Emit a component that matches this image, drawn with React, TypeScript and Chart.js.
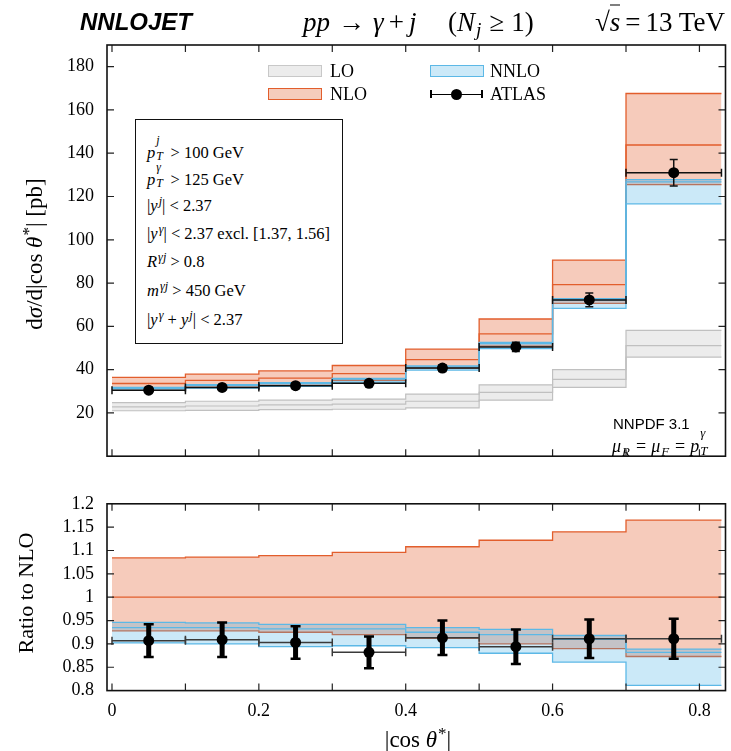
import React, { useEffect, useRef } from "react";
import { Chart, registerables } from "chart.js";
Chart.register(...registerables);

// ---------- data ----------
const binEdges = [0, 0.1, 0.2, 0.3, 0.4, 0.5, 0.6, 0.7, 0.83];
const dataCenters = [0.05, 0.15, 0.25, 0.35, 0.45, 0.55, 0.65, 0.765];

const loDown = [21.0, 21.2, 21.5, 21.7, 22.3, 25.9, 31.8, 45.8];
const loCentral = [22.8, 23.2, 23.7, 24.1, 25.4, 29.5, 35.5, 51.1];
const loUp = [24.8, 25.4, 25.9, 26.4, 28.7, 33.0, 40.0, 58.1];

const nloDown = [31.2, 32.5, 33.4, 35.1, 40.7, 50.9, 70.6, 125.5];
const nloCentral = [33.6, 35.0, 36.1, 38.2, 44.6, 56.5, 79.3, 143.8];
const nloUp = [36.4, 37.9, 39.4, 41.9, 49.5, 63.4, 90.6, 167.6];

const nnloDown = [30.4, 31.5, 32.3, 34.2, 39.8, 49.7, 68.3, 116.6];
const nnloCentral = [31.4, 32.7, 33.6, 35.6, 41.3, 52.0, 72.2, 126.8];
const nnloUp = [31.8, 33.1, 34.0, 36.0, 41.7, 52.6, 72.8, 127.8];

const atlas = [30.5, 31.8, 32.6, 33.7, 40.7, 50.5, 72.2, 131.0];
const atlasErr = [1.2, 1.3, 1.3, 1.3, 1.6, 2.1, 3.2, 6.1];

const ratioNloDown = [0.928, 0.928, 0.925, 0.92, 0.912, 0.9, 0.89, 0.873];
const ratioNloCentral = [1, 1, 1, 1, 1, 1, 1, 1];
const ratioNloUp = [1.084, 1.086, 1.089, 1.096, 1.108, 1.122, 1.14, 1.165];
const ratioNnloDown = [0.902, 0.9, 0.894, 0.896, 0.892, 0.88, 0.861, 0.811];
const ratioNnloCentral = [0.935, 0.935, 0.932, 0.932, 0.925, 0.92, 0.91, 0.882];
const ratioNnloUp = [0.946, 0.945, 0.942, 0.942, 0.935, 0.931, 0.918, 0.889];
const ratioAtlas = [0.907, 0.909, 0.903, 0.882, 0.913, 0.894, 0.911, 0.911];
const ratioAtlasErr = [0.035, 0.037, 0.035, 0.034, 0.037, 0.037, 0.041, 0.043];

// ---------- style ----------
const SERIF = '"Liberation Serif", "Times New Roman", serif';
const SANS = '"Liberation Sans", Arial, sans-serif';
const NLO_LINE = "rgb(226,94,44)";
const NLO_FILL = "rgba(226,94,44,0.32)";
const NNLO_LINE = "rgb(92,184,230)";
const NNLO_FILL = "rgba(70,175,230,0.28)";
const LO_LINE = "rgb(192,192,192)";
const LO_FILL = "rgba(160,160,160,0.2)";
const X_MIN = -0.0068;
const X_MAX = 0.8355;
const W = 731;
const TOP_H = 480;
const BOT_H = 271;

function stepPoints(vals: number[]) {
  return binEdges.map((x, i) => ({ x, y: vals[Math.min(i, vals.length - 1)] }));
}

function band(down: number[], central: number[], up: number[], line: string, fill: string, order: number, base: number, lw: number) {
  const common = { stepped: "before" as const, pointRadius: 0, pointHoverRadius: 0, borderColor: line, borderWidth: lw };
  return [
    { ...common, data: stepPoints(down), backgroundColor: fill, fill: base + 2, order: order + 3 },
    { ...common, data: stepPoints(central), fill: false, order: order + 2 },
    { ...common, data: stepPoints(up), fill: false, order: order + 1 },
  ];
}

function errorBarPlugin(dataIndex: number, centers: number[], vals: number[], errs: number[], st: any) {
  return {
    id: "errbars",
    beforeDatasetDraw(chart: any, args: any) {
      if (args.index !== dataIndex) return;
      const { ctx, chartArea: a } = chart;
      const xs = chart.scales.x;
      const ys = chart.scales.y;
      ctx.save();
      ctx.beginPath();
      ctx.rect(a.left, a.top, a.right - a.left, a.bottom - a.top);
      ctx.clip();
      for (let i = 0; i < vals.length; i++) {
        const x0 = xs.getPixelForValue(binEdges[i]);
        const x1 = xs.getPixelForValue(binEdges[i + 1]);
        const xc = xs.getPixelForValue(centers[i]);
        const yc = ys.getPixelForValue(vals[i]);
        const yu = ys.getPixelForValue(vals[i] + errs[i]);
        const yd = ys.getPixelForValue(vals[i] - errs[i]);
        ctx.strokeStyle = st.hColor;
        ctx.lineWidth = st.hWidth;
        ctx.beginPath();
        ctx.moveTo(x0, yc);
        ctx.lineTo(x1, yc);
        ctx.moveTo(x0, yc - st.hCap);
        ctx.lineTo(x0, yc + st.hCap);
        ctx.moveTo(x1, yc - st.hCap);
        ctx.lineTo(x1, yc + st.hCap);
        ctx.stroke();
        ctx.strokeStyle = st.vColor;
        ctx.lineWidth = st.vWidth;
        ctx.beginPath();
        ctx.moveTo(xc, yu);
        ctx.lineTo(xc, yd);
        ctx.stroke();
        ctx.lineWidth = st.capWidth;
        ctx.beginPath();
        ctx.moveTo(xc - st.vCap, yu);
        ctx.lineTo(xc + st.vCap, yu);
        ctx.moveTo(xc - st.vCap, yd);
        ctx.lineTo(xc + st.vCap, yd);
        ctx.stroke();
      }
      ctx.restore();
    },
  };
}

const framePlugin = {
  id: "frame",
  afterDraw(chart: any) {
    const { ctx, chartArea: a } = chart;
    const xs = chart.scales.x;
    const ys = chart.scales.y;
    const L = 7;
    ctx.save();
    ctx.strokeStyle = "#222";
    ctx.lineWidth = 1.2;
    ctx.beginPath();
    for (const t of xs.ticks) {
      const px = xs.getPixelForValue(t.value);
      ctx.moveTo(px, a.top);
      ctx.lineTo(px, a.top + L);
      ctx.moveTo(px, a.bottom);
      ctx.lineTo(px, a.bottom - L);
    }
    for (const t of ys.ticks) {
      const py = ys.getPixelForValue(t.value);
      if (py <= a.top + 1 || py >= a.bottom - 1) continue;
      ctx.moveTo(a.left, py);
      ctx.lineTo(a.left + L, py);
      ctx.moveTo(a.right, py);
      ctx.lineTo(a.right - L, py);
    }
    ctx.stroke();
    ctx.lineWidth = 1.6;
    ctx.strokeStyle = "#111";
    ctx.strokeRect(a.left, a.top, a.right - a.left, a.bottom - a.top);
    ctx.restore();
  },
};

const tickFont = { family: SERIF, size: 18 };

function makeTop(canvas: HTMLCanvasElement) {
  const datasets: any[] = [
    ...band(loDown, loCentral, loUp, LO_LINE, LO_FILL, 30, 0, 1.2),
    ...band(nloDown, nloCentral, nloUp, NLO_LINE, NLO_FILL, 20, 3, 1.3),
    ...band(nnloDown, nnloCentral, nnloUp, NNLO_LINE, NNLO_FILL, 10, 6, 1.3),
    {
      data: dataCenters.map((x, i) => ({ x, y: atlas[i] })),
      showLine: false,
      pointRadius: 5.5,
      pointHoverRadius: 5.5,
      pointBackgroundColor: "#000",
      pointBorderWidth: 0,
      order: 0,
    },
  ];
  return new Chart(canvas, {
    type: "line",
    data: { datasets },
    options: {
      animation: false,
      responsive: false,
      events: [],
      layout: { padding: { top: 45, right: 1, left: 0, bottom: 0 } },
      plugins: { legend: { display: false }, tooltip: { enabled: false } },
      scales: {
        x: {
          type: "linear",
          min: X_MIN,
          max: X_MAX,
          grid: { display: false, drawTicks: false },
          border: { display: false },
          ticks: { display: false, stepSize: 0.1, includeBounds: false, autoSkip: false },
          afterFit: (s: any) => {
            s.height = TOP_H - 464.5;
          },
        },
        y: {
          type: "linear",
          min: 0,
          max: 190,
          grid: { display: false, drawTicks: false },
          border: { display: false },
          ticks: {
            stepSize: 20,
            includeBounds: false,
            autoSkip: false,
            padding: 13,
            color: "#000",
            font: tickFont,
            callback: (v: any) => (v === 0 ? "" : String(v)),
          },
          afterFit: (s: any) => {
            s.width = 107;
          },
        },
      },
    },
    plugins: [
      framePlugin,
      errorBarPlugin(9, dataCenters, atlas, atlasErr, {
        hColor: "#111",
        hWidth: 1.5,
        hCap: 4,
        vColor: "#111",
        vWidth: 1.5,
        capWidth: 1.5,
        vCap: 4,
      }),
    ],
  } as any);
}

function makeBottom(canvas: HTMLCanvasElement) {
  const datasets: any[] = [
    ...band(ratioNloDown, ratioNloCentral, ratioNloUp, NLO_LINE, NLO_FILL, 20, 0, 1.3),
    ...band(ratioNnloDown, ratioNnloCentral, ratioNnloUp, NNLO_LINE, NNLO_FILL, 10, 3, 1.3),
    {
      data: dataCenters.map((x, i) => ({ x, y: ratioAtlas[i] })),
      showLine: false,
      pointRadius: 5.5,
      pointHoverRadius: 5.5,
      pointBackgroundColor: "#000",
      pointBorderWidth: 0,
      order: 0,
    },
  ];
  return new Chart(canvas, {
    type: "line",
    data: { datasets },
    options: {
      animation: false,
      responsive: false,
      events: [],
      layout: { padding: { top: 16, right: 1, left: 0, bottom: 0 } },
      plugins: { legend: { display: false }, tooltip: { enabled: false } },
      scales: {
        x: {
          type: "linear",
          min: X_MIN,
          max: X_MAX,
          grid: { display: false, drawTicks: false },
          border: { display: false },
          ticks: {
            stepSize: 0.1,
            includeBounds: false,
            autoSkip: false,
            maxRotation: 0,
            padding: 10,
            color: "#000",
            font: tickFont,
            callback: (v: any) => {
              const r = Math.round(v * 10);
              return r % 2 === 0 ? String(r / 10) : "";
            },
          },
          afterFit: (s: any) => {
            s.height = BOT_H - (690.6 - TOP_H);
          },
        },
        y: {
          type: "linear",
          min: 0.8,
          max: 1.2,
          grid: { display: false, drawTicks: false },
          border: { display: false },
          ticks: {
            stepSize: 0.05,
            autoSkip: false,
            padding: 13,
            color: "#000",
            font: tickFont,
            callback: (v: any) => String(Math.round(v * 100) / 100),
          },
          afterFit: (s: any) => {
            s.width = 107;
          },
        },
      },
    },
    plugins: [
      framePlugin,
      errorBarPlugin(6, dataCenters, ratioAtlas, ratioAtlasErr, {
        hColor: "#3a3a3a",
        hWidth: 1.5,
        hCap: 4,
        vColor: "#000",
        vWidth: 5,
        capWidth: 2.5,
        vCap: 5,
      }),
    ],
  } as any);
}

// ---------- text helpers ----------
function T({ x, cy, children, style, center }: any) {
  return (
    <div
      style={{
        position: "absolute",
        left: x,
        top: cy,
        transform: center ? "translate(-50%, -50%)" : "translateY(-50%)",
        whiteSpace: "nowrap",
        lineHeight: 1,
        ...style,
      }}
    >
      {children}
    </div>
  );
}

// stacked superscript / subscript (e.g. p_T^j)
function SS({ sup, sub }: any) {
  return (
    <span
      style={{
        display: "inline-block",
        position: "relative",
        width: "0.6em",
        height: "1em",
        verticalAlign: "baseline",
        fontSize: "0.72em",
        marginLeft: 1,
        marginRight: 3,
      }}
    >
      <span style={{ position: "absolute", left: 0, bottom: "0.9em", lineHeight: 1 }}>{sup}</span>
      <span style={{ position: "absolute", left: 0, top: "0.45em", lineHeight: 1 }}>{sub}</span>
    </span>
  );
}

const I = ({ children }: any) => <span style={{ fontStyle: "italic" }}>{children}</span>;
const Sup = ({ children }: any) => (
  <span style={{ fontSize: "0.74em", verticalAlign: "0.5em", marginLeft: 1, lineHeight: 0 }}>{children}</span>
);
const Sub = ({ children }: any) => (
  <span
    style={{
      display: "inline-block",
      fontSize: "0.72em",
      transform: "translateY(0.3em)",
      marginLeft: 1,
      marginRight: 1,
      lineHeight: 1,
    }}
  >
    {children}
  </span>
);

function Rot({ cx, cy, children, style }: any) {
  return (
    <div
      style={{
        position: "absolute",
        left: cx,
        top: cy,
        transform: "translate(-50%, -50%) rotate(-90deg)",
        whiteSpace: "nowrap",
        lineHeight: 1,
        ...style,
      }}
    >
      {children}
    </div>
  );
}

export default function App() {
  const topRef = useRef<HTMLCanvasElement>(null);
  const botRef = useRef<HTMLCanvasElement>(null);

  useEffect(() => {
    const c1 = makeTop(topRef.current!);
    const c2 = makeBottom(botRef.current!);
    return () => {
      c1.destroy();
      c2.destroy();
    };
  }, []);

  const cutLines = [
    <>
      <I>p</I>
      <SS sup={<I>j</I>} sub={<I>T</I>} /> &gt; 100 GeV
    </>,
    <>
      <I>p</I>
      <SS sup={<I>γ</I>} sub={<I>T</I>} /> &gt; 125 GeV
    </>,
    <>
      |<I>y</I>
      <Sup>
        <I>j</I>
      </Sup>
      | &lt; 2.37
    </>,
    <>
      |<I>y</I>
      <Sup>
        <I>γ</I>
      </Sup>
      | &lt; 2.37 excl. [1.37, 1.56]
    </>,
    <>
      <I>R</I>
      <Sup>
        <I>γj</I>
      </Sup>{" "}
      &gt; 0.8
    </>,
    <>
      <I>m</I>
      <Sup>
        <I>γj</I>
      </Sup>{" "}
      &gt; 450 GeV
    </>,
    <>
      |<I>y</I>
      <Sup>
        <I>γ</I>
      </Sup>{" "}
      + <I>y</I>
      <Sup>
        <I>j</I>
      </Sup>
      | &lt; 2.37
    </>,
  ];
  const cutY = [153, 180, 206, 234, 262, 291, 320];

  const box = (left: number, top: number, bg: string, border: string) => (
    <div
      style={{
        position: "absolute",
        left,
        top,
        width: 52,
        height: 10,
        background: bg,
        border: `1.3px solid ${border}`,
      }}
    />
  );

  return (
    <div
      style={{
        position: "absolute",
        left: 0,
        top: 0,
        width: W,
        height: TOP_H + BOT_H,
        background: "#fff",
        fontFamily: SERIF,
        color: "#000",
        overflow: "hidden",
      }}
    >
      <canvas ref={topRef} width={W} height={TOP_H} style={{ position: "absolute", left: 0, top: 0 }} />
      <canvas ref={botRef} width={W} height={BOT_H} style={{ position: "absolute", left: 0, top: TOP_H }} />

      {/* title */}
      <T x={80} cy={22} style={{ fontFamily: SANS, fontWeight: "bold", fontStyle: "italic", fontSize: 24 }}>
        NNLOJET
      </T>
      <T x={303} cy={22} style={{ fontSize: 27 }}>
        <I>pp</I>
        <span style={{ margin: "0 8px" }}>→</span>
        <I>γ</I>
        <span style={{ margin: "0 5px" }}>+</span>
        <I>j</I>
      </T>
      <T x={448} cy={22} style={{ fontSize: 27 }}>
        (<I>N</I>
        <Sub>
          <I>j</I>
        </Sub>
        <span style={{ margin: "0 7px" }}>≥</span>1)
      </T>
      <T x={595} cy={22} style={{ fontSize: 27 }}>
        √<span style={{ borderTop: "1.5px solid #000", fontStyle: "italic", paddingTop: 1 }}>s</span>
        <span style={{ margin: "0 5px" }}>=</span>13 TeV
      </T>

      {/* legend */}
      {box(268, 65, "rgb(236,236,236)", "rgb(200,200,200)")}
      {box(268, 88, "rgb(245,204,188)", NLO_LINE)}
      {box(430, 65, "rgb(204,233,248)", NNLO_LINE)}
      <div style={{ position: "absolute", left: 430, top: 93.5, width: 52, height: 1.5, background: "#000" }} />
      <div style={{ position: "absolute", left: 430, top: 90, width: 1.5, height: 8, background: "#000" }} />
      <div style={{ position: "absolute", left: 481, top: 90, width: 1.5, height: 8, background: "#000" }} />
      <div
        style={{ position: "absolute", left: 451, top: 89, width: 11, height: 11, borderRadius: "50%", background: "#000" }}
      />
      <T x={330} cy={71} style={{ fontSize: 18 }}>
        LO
      </T>
      <T x={330} cy={94} style={{ fontSize: 18 }}>
        NLO
      </T>
      <T x={490} cy={71} style={{ fontSize: 18 }}>
        NNLO
      </T>
      <T x={490} cy={94} style={{ fontSize: 18 }}>
        ATLAS
      </T>

      {/* cuts box */}
      <div
        style={{
          position: "absolute",
          left: 135,
          top: 119,
          width: 208,
          height: 225,
          border: "1.6px solid #111",
          boxSizing: "border-box",
          background: "#fff",
        }}
      />
      {cutLines.map((c, i) => (
        <T key={i} x={147} cy={cutY[i]} style={{ fontSize: 16.5 }}>
          {c}
        </T>
      ))}

      {/* NNPDF label */}
      <T x={613} cy={423} style={{ fontFamily: SANS, fontSize: 15 }}>
        NNPDF 3.1
      </T>
      <T x={612} cy={446} style={{ fontSize: 18 }}>
        <I>μ</I>
        <Sub>
          <I>R</I>
        </Sub>
        <span style={{ margin: "0 5px" }}>=</span>
        <I>μ</I>
        <Sub>
          <I>F</I>
        </Sub>
        <span style={{ margin: "0 5px" }}>=</span>
        <I>p</I>
        <SS sup={<I>γ</I>} sub={<I>T</I>} />
      </T>

      {/* axis titles */}
      <Rot cx={34} cy={254} style={{ fontSize: 23 }}>
        d<I>σ</I>/d|cos <I>θ</I>
        <Sup>*</Sup>| [pb]
      </Rot>
      <Rot cx={26} cy={593} style={{ fontSize: 22 }}>
        Ratio to NLO
      </Rot>
      <T x={418} cy={739} center style={{ fontSize: 23 }}>
        |cos <I>θ</I>
        <Sup>*</Sup>|
      </T>
    </div>
  );
}
